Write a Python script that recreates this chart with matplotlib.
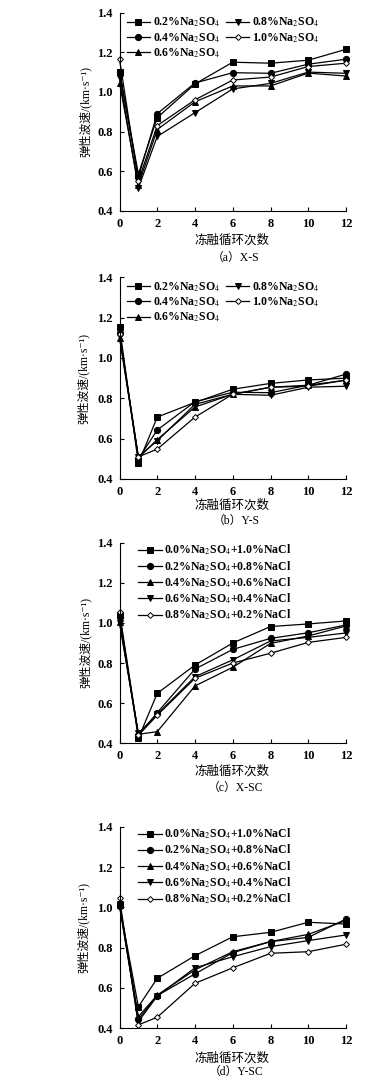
import numpy as np
import matplotlib
matplotlib.use("Agg")
import matplotlib.pyplot as plt

plt.rcParams['font.family'] = ['Liberation Serif', 'Noto Sans CJK SC', 'DejaVu Sans']
plt.rcParams['mathtext.fontset'] = 'stix'

# 冻融循环次数
x = [0, 1, 2, 4, 6, 8, 10, 12]

# (a) X-S
labels_s = ['0.2%Na$_2$SO$_4$', '0.4%Na$_2$SO$_4$', '0.6%Na$_2$SO$_4$',
            '0.8%Na$_2$SO$_4$', '1.0%Na$_2$SO$_4$']
a_02 = [1.10, 0.585, 0.87, 1.04, 1.15, 1.145, 1.16, 1.215]
a_04 = [1.10, 0.57, 0.89, 1.045, 1.097, 1.094, 1.14, 1.165]
a_06 = [1.045, 0.53, 0.81, 0.95, 1.03, 1.03, 1.095, 1.08]
a_08 = [1.07, 0.515, 0.775, 0.895, 1.015, 1.043, 1.10, 1.094]
a_10 = [1.165, 0.55, 0.83, 0.96, 1.06, 1.075, 1.128, 1.145]

# (b) Y-S
b_02 = [1.155, 0.478, 0.707, 0.78, 0.845, 0.874, 0.891, 0.90]
b_04 = [1.125, 0.50, 0.643, 0.783, 0.83, 0.828, 0.865, 0.92]
b_06 = [1.10, 0.505, 0.595, 0.757, 0.82, 0.855, 0.865, 0.89]
b_08 = [1.11, 0.51, 0.59, 0.77, 0.82, 0.815, 0.855, 0.86]
b_10 = [1.12, 0.51, 0.548, 0.707, 0.82, 0.855, 0.86, 0.89]

# (c) X-SC
labels_sc = ['0.0%Na$_2$SO$_4$+1.0%NaCl', '0.2%Na$_2$SO$_4$+0.8%NaCl',
             '0.4%Na$_2$SO$_4$+0.6%NaCl', '0.6%Na$_2$SO$_4$+0.4%NaCl',
             '0.8%Na$_2$SO$_4$+0.2%NaCl']
c_00 = [1.04, 0.425, 0.649, 0.79, 0.90, 0.982, 0.995, 1.01]
c_02 = [1.03, 0.44, 0.553, 0.77, 0.868, 0.923, 0.951, 0.99]
c_04 = [1.005, 0.445, 0.458, 0.686, 0.779, 0.898, 0.935, 0.985]
c_06 = [1.0, 0.45, 0.545, 0.732, 0.816, 0.91, 0.928, 0.95]
c_08 = [1.056, 0.44, 0.54, 0.724, 0.80, 0.849, 0.903, 0.928]

# (d) Y-SC
d_00 = [1.01, 0.507, 0.648, 0.76, 0.854, 0.876, 0.926, 0.917]
d_02 = [1.005, 0.445, 0.562, 0.67, 0.775, 0.83, 0.851, 0.942]
d_04 = [1.02, 0.458, 0.565, 0.69, 0.78, 0.83, 0.866, 0.935]
d_06 = [1.015, 0.433, 0.56, 0.70, 0.755, 0.805, 0.835, 0.863]
d_08 = [1.045, 0.417, 0.455, 0.623, 0.70, 0.772, 0.78, 0.817]

markers = ['s', 'o', '^', 'v', 'D']
faces = ['k', 'k', 'k', 'k', 'w']
msizes = [4, 4.5, 4.5, 4.5, 3]

W, H = 378, 1086
fig = plt.figure(figsize=(W / 100, H / 100), dpi=100)

# (top, bottom) of each axes in pixels
panels = [
    ((12.7, 210.7), [a_02, a_04, a_06, a_08, a_10], labels_s, '（a）X-S', 240, 258, 85),
    ((277.3, 479.0), [b_02, b_04, b_06, b_08, b_10], labels_s, '（b）Y-S', 505, 521, 83),
    ((542.7, 743.3), [c_00, c_02, c_04, c_06, c_08], labels_sc, '（c）X-SC', 771.7, 788, 85),
    ((826.7, 1028.3), [d_00, d_02, d_04, d_06, d_08], labels_sc, '（d）Y-SC', 1058, 1071.7, 83),
]

left, right = 119.5, 346
for i, ((top, bot), series, labels, cap, ylx, ycap, yl_x) in enumerate(panels):
    ax = fig.add_axes([left / W, 1 - bot / H, (right - left) / W, (bot - top) / H])
    for s, lab, m, fc, ms in zip(series, labels, markers, faces, msizes):
        ax.plot(x, s, color='k', lw=0.9, marker=m, markersize=ms,
                markerfacecolor=fc, markeredgecolor='k', markeredgewidth=0.7,
                label=lab, clip_on=False)
    ax.set_xlim(0, 12)
    ax.set_ylim(0.4, 1.4)
    ax.set_xticks([0, 2, 4, 6, 8, 10, 12])
    ax.set_yticks([0.4, 0.6, 0.8, 1.0, 1.2, 1.4])
    ax.yaxis.set_major_formatter(matplotlib.ticker.FormatStrFormatter('%.1f'))
    ax.spines['top'].set_visible(False)
    ax.spines['right'].set_visible(False)
    ax.tick_params(direction='in', length=3, width=0.8, labelsize=9, pad=5)
    for t in ax.get_xticklabels() + ax.get_yticklabels():
        t.set_fontweight('bold')
    if i < 2:
        leg = ax.legend(ncol=2, loc='upper left', bbox_to_anchor=(0.0, 1.02),
                        frameon=False, fontsize=8.5, handlelength=2.0,
                        handletextpad=0.2, columnspacing=0.5, labelspacing=0.15,
                        borderaxespad=0.2)
    else:
        leg = ax.legend(ncol=1, loc='upper left', bbox_to_anchor=(0.05, 1.035),
                        frameon=False, fontsize=8.5, handlelength=2.0,
                        handletextpad=0.2, labelspacing=0.15, borderaxespad=0.2)
    for t in leg.get_texts():
        t.set_fontweight('bold')
    fig.text(yl_x / W, 1 - (top + bot) / 2 / H, '弹性波速/(km·s⁻¹)',
             rotation=90, ha='center', va='center', fontsize=8.5)
    fig.text(232 / W, 1 - ylx / H, '冻融循环次数', ha='center', va='center',
             fontsize=9)
    fig.text(236 / W, 1 - ycap / H, cap, ha='center', va='center', fontsize=8.5)

fig.savefig('out.png', dpi=100)
